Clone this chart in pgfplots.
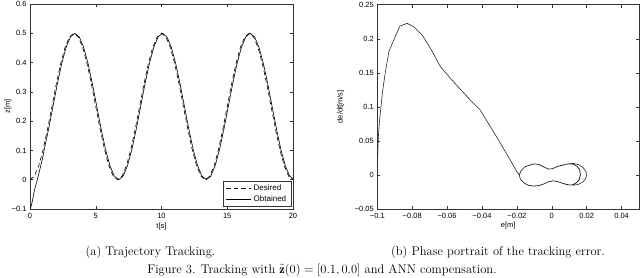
\documentclass[border=0pt]{standalone}
\usepackage{fix-cm}
\usepackage{fontspec}
\usepackage{pgfplots}
\pgfplotsset{compat=1.18}
\newfontfamily\hel{Liberation Sans}
\newcommand\axfont{\hel\fontsize{7.5}{9}\selectfont}
\newcommand\legfont{\hel\fontsize{8}{9}\selectfont}
\newcommand\capfont{\fontsize{12.5}{15}\selectfont}

\begin{document}
\begin{tikzpicture}
\path[use as bounding box] (0pt,0pt) rectangle (640pt,277pt);
\pgfplotsset{
  every axis/.append style={
    scale only axis,
    axis line style={black!80, line width=0.6pt},
    tick style={black!80, line width=0.5pt},
    major tick length=3pt,
    tick align=inside,
    xtick pos=both, ytick pos=both,
    ticklabel style={font=\axfont, black},
    label style={font=\axfont, black},
    xticklabel style={yshift=-1.2pt},
    clip=true,
  },
}
% ---------------- (a) trajectory tracking ----------------
\begin{axis}[
  at={(30pt,68pt)}, anchor=south west,
  width=263pt, height=205pt,
  xmin=0, xmax=20, ymin=-0.1, ymax=0.6,
  xtick={0,5,10,15,20},
  xticklabels={0,5,10,15,20},
  ytick={-0.1,0,0.1,0.2,0.3,0.4,0.5,0.6},
  yticklabels={−0.1,0,0.1,0.2,0.3,0.4,0.5,0.6},
  xlabel={t[s]}, ylabel={z[m]},
  xlabel style={at={(axis description cs:0.5,-0.0854)}, anchor=center},
  ylabel style={at={(axis description cs:-0.0837,0.5)}, anchor=center},
  legend style={at={(0.994,0.012)}, anchor=south east, draw=black!80,
    line width=0.5pt, font=\legfont, inner xsep=3pt, inner ysep=1.5pt,
    row sep=-0.5pt, fill=white},
  legend cell align=left,
  legend image code/.code={\draw[#1, line width=0.6pt] (0pt,0pt) -- (25pt,0pt);},
]
\addplot[black, line width=0.6pt, dash pattern=on 4.5pt off 3pt] coordinates {
(0,0) (0.333,0.0122) (0.667,0.0477) (1,0.1031) (1.333,0.1727) (1.667,0.25)
(2,0.3273) (2.333,0.3969) (2.667,0.4523) (3,0.4878) (3.333,0.5)
(3.667,0.4878) (4,0.4523) (4.333,0.3969) (4.667,0.3273) (5,0.25)
(5.333,0.1727) (5.667,0.1031) (6,0.0477) (6.333,0.0122) (6.667,0)
(7,0.0122) (7.333,0.0477) (7.667,0.1031) (8,0.1727) (8.333,0.25)
(8.667,0.3273) (9,0.3969) (9.333,0.4523) (9.667,0.4878) (10,0.5)
(10.333,0.4878) (10.667,0.4523) (11,0.3969) (11.333,0.3273) (11.667,0.25)
(12,0.1727) (12.333,0.1031) (12.667,0.0477) (13,0.0122) (13.333,0)
(13.667,0.0122) (14,0.0477) (14.333,0.1031) (14.667,0.1727) (15,0.25)
(15.333,0.3273) (15.667,0.3969) (16,0.4523) (16.333,0.4878) (16.667,0.5)
(17,0.4878) (17.333,0.4523) (17.667,0.3969) (18,0.3273) (18.333,0.25)
(18.667,0.1727) (19,0.1031) (19.333,0.0477) (19.667,0.0122) (20,0)
};
\addlegendentry{Desired\hspace{6pt}}
\addplot[black, line width=0.6pt] coordinates {
(0,-0.1) (0.1,-0.089) (0.2,-0.068) (0.3,-0.044) (0.4,-0.025) (0.5,-0.009)
(0.6,0.008) (0.8,0.044) (1.0,0.082) (1.08,0.1031) (1.413,0.1727) (1.747,0.25)
(2.08,0.3273) (2.413,0.3969) (2.747,0.4523) (3.08,0.4878) (3.413,0.5)
(3.747,0.4878) (4.08,0.4523) (4.413,0.3969) (4.747,0.3273) (5.08,0.25)
(5.413,0.1727) (5.747,0.1031) (6.08,0.0477) (6.413,0.0122) (6.747,0)
(7.08,0.0122) (7.413,0.0477) (7.747,0.1031) (8.08,0.1727) (8.413,0.25)
(8.747,0.3273) (9.08,0.3969) (9.413,0.4523) (9.747,0.4878) (10.08,0.5)
(10.413,0.4878) (10.747,0.4523) (11.08,0.3969) (11.413,0.3273) (11.747,0.25)
(12.08,0.1727) (12.413,0.1031) (12.747,0.0477) (13.08,0.0122) (13.413,0)
(13.747,0.0122) (14.08,0.0477) (14.413,0.1031) (14.747,0.1727) (15.08,0.25)
(15.413,0.3273) (15.747,0.3969) (16.08,0.4523) (16.413,0.4878) (16.747,0.5)
(17.08,0.4878) (17.413,0.4523) (17.747,0.3969) (18.08,0.3273) (18.413,0.25)
(18.747,0.1727) (19.08,0.1031) (19.413,0.0477) (19.747,0.0122) (20,0.003)
};
\addlegendentry{Obtained\hspace{6pt}}
\end{axis}
% ---------------- (b) phase portrait ----------------
\begin{axis}[
  at={(377.3pt,68pt)}, anchor=south west,
  width=261.7pt, height=204.3pt,
  xmin=-0.1, xmax=0.05, ymin=-0.05, ymax=0.25,
  xtick={-0.1,-0.08,-0.06,-0.04,-0.02,0,0.02,0.04},
  xticklabels={−0.1,−0.08,−0.06,−0.04,−0.02,0,0.02,0.04},
  ytick={-0.05,0,0.05,0.1,0.15,0.2,0.25},
  yticklabels={−0.05,0,0.05,0.1,0.15,0.2,0.25},
  xlabel={e[m]}, ylabel={de/dt[m/s]},
  xlabel style={at={(axis description cs:0.5,-0.083)}, anchor=center},
  ylabel style={at={(axis description cs:-0.14,0.5)}, anchor=center},
]
\addplot[black!85, line width=0.6pt] coordinates {
(-0.0999,0.012) (-0.0997,0.035) (-0.0993,0.06) (-0.0985,0.0855) (-0.0971,0.120)
(-0.0958,0.144) (-0.0934,0.181) (-0.0871,0.2186) (-0.0829,0.2226) (-0.0791,0.2176)
(-0.0743,0.2054) (-0.0695,0.1859) (-0.0638,0.1589) (-0.0581,0.1418) (-0.0467,0.110)
(-0.041,0.0953) (-0.0305,0.0512) (-0.0238,0.0219) (-0.0200,0.0047) (-0.0187,0.0005)
(-0.0175,0.0065) (-0.0153,0.012) (-0.0105,0.016) (-0.0075,0.0155) (-0.0048,0.012)
(-0.0019,0.0085) (0.0005,0.0092) (0.0035,0.0125) (0.0066,0.0145) (0.0095,0.0163)
(0.0123,0.017) (0.0155,0.0150) (0.0180,0.0105) (0.0196,0.005) (0.0200,0.0)
(0.0195,-0.005) (0.0178,-0.0105) (0.0150,-0.0140) (0.0123,-0.0150) (0.0095,-0.0143)
(0.0066,-0.0124) (0.0035,-0.0098) (0.0010,-0.0085) (-0.0020,-0.0100) (-0.0048,-0.0134)
(-0.0075,-0.0155) (-0.0105,-0.0163) (-0.0135,-0.0150) (-0.0160,-0.0115) (-0.0180,-0.0060)
(-0.0187,0.0)
(-0.0175,0.0065) (-0.0153,0.0122) (-0.0105,0.0162) (-0.0075,0.0157) (-0.0048,0.0123)
(-0.0019,0.0087) (0.0005,0.0093) (0.0035,0.0128) (0.0066,0.0148) (0.0095,0.0162)
(0.0120,0.0160) (0.0145,0.0130) (0.0160,0.0080) (0.0165,0.0) (0.0158,-0.0070)
(0.0140,-0.0120) (0.0115,-0.0148) (0.0090,-0.0145) (0.0066,-0.0127) (0.0035,-0.0100)
(0.0010,-0.0087) (-0.0020,-0.0102) (-0.0048,-0.0136) (-0.0075,-0.0157) (-0.0105,-0.0165)
(-0.0135,-0.0152) (-0.0160,-0.0117) (-0.0180,-0.0062) (-0.0186,0.0)
(-0.0175,0.0064) (-0.0153,0.0121) (-0.0105,0.0161) (-0.0075,0.0156) (-0.0048,0.0122)
(-0.0019,0.0086) (0.0005,0.0092) (0.0035,0.0127) (0.0066,0.0147) (0.0095,0.0161)
(0.0120,0.0159) (0.0144,0.0129) (0.0159,0.0079) (0.0164,0.0) (0.0157,-0.0069)
(0.0139,-0.0119) (0.0115,-0.0147) (0.0090,-0.0144) (0.0066,-0.0126) (0.0035,-0.0099)
(0.0010,-0.0086) (-0.0020,-0.0101) (-0.0048,-0.0135) (-0.0075,-0.0156) (-0.0105,-0.0164)
(-0.0135,-0.0151) (-0.0160,-0.0116) (-0.0180,-0.0061) (-0.0186,0.0)
};
\end{axis}
% ---------------- captions ----------------
\node[font=\capfont, anchor=base] at (150.5pt,21.5pt) {(a) Trajectory Tracking.};
\node[font=\capfont, anchor=base] at (498pt,21.5pt) {(b) Phase portrait of the tracking error.};
\node[font=\capfont, anchor=base] at (322pt,4pt) {Figure 3. Tracking with $\tilde{\mathbf{z}}(0)=[0.1,0.0]$ and ANN compensation.};
\end{tikzpicture}
\end{document}
